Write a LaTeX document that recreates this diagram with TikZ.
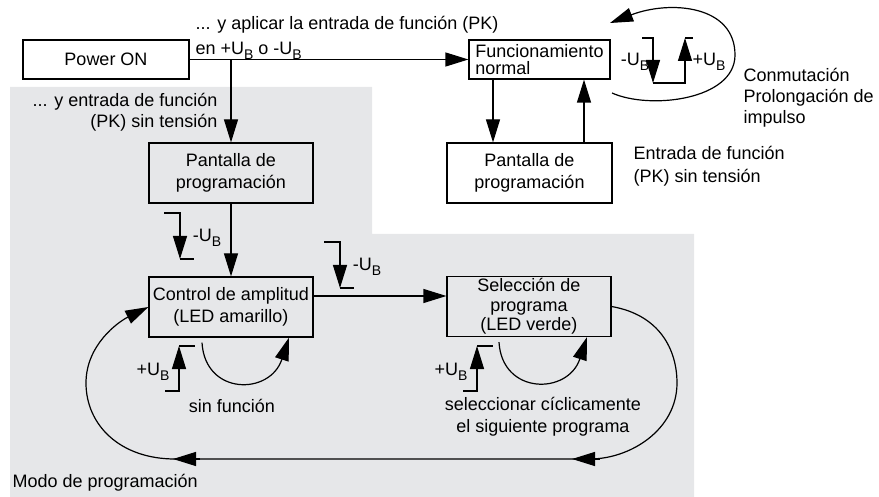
\documentclass[tikz,border=0pt]{standalone}
\usepackage{fontspec}
\setmainfont{Liberation Sans}
\usetikzlibrary{arrows.meta,calc}
\definecolor{modogray}{RGB}{230,231,233}
\newcommand{\UB}{U\raisebox{-4.5pt}{\fontsize{14}{14}\selectfont B}}

\begin{document}
\begin{tikzpicture}[x=1pt,y=-1pt,line width=1.2pt,
	arr/.style={-{Triangle[length=23pt,width=14pt]}},
	box/.style={draw, minimum width=164pt, minimum height=60pt, inner sep=2pt, align=center, font=\fontsize{18}{22}\selectfont},
	lbl/.style={inner sep=0pt, font=\fontsize{18}{21}\selectfont}]
			\useasboundingbox (0,0) rectangle (879,497);
			\fill[modogray] (10,87) -- (372,87) -- (372,234) -- (694,234) -- (694,497) -- (10,497) -- cycle;
			
			\node[box, minimum width=166pt, minimum height=39pt] (power) at (106,59.5) {Power ON};
			\node[box, minimum width=141pt, minimum height=39pt, align=left, inner xsep=3pt, font=\fontsize{18}{17}\selectfont] (func) at (539.5,59.5) {Funcionamiento\\normal};
			\node[box] (progA) at (231,173) {Pantalla de\\programación};
			\node[box, minimum width=165pt] (progB) at (529.5,173) {Pantalla de\\programación};
			\node[box] (ctrl) at (231,307) {Control de amplitud\\(LED amarillo)};
			\node[box, font=\fontsize{18}{19.5}\selectfont] (sel) at (529,306.5) {Selección de\\programa\\(LED verde)};
			
			\draw[arr] (power) -- (func);
			\draw[arr] (power.east -| progA.north) -- (progA);
			\draw[arr] (progA) -- (ctrl);
			\draw[arr] ([yshift=11pt]ctrl.east) -- ([yshift=11pt]ctrl.east -| sel.west);
			\draw[arr] ([xshift=-46.5pt]func.south) -- ([xshift=-46.5pt]func.south |- progB.north);
			\draw[arr] ([xshift=44.5pt]func.south |- progB.north) -- ([xshift=44.5pt]func.south);
			
			\draw[arr] ([xshift=-29pt,yshift=-5pt]ctrl.south) .. controls +(3,53) and +(-19,58) .. ([xshift=58pt]ctrl.south);
			\draw[arr] ([xshift=-30pt,yshift=-5pt]sel.south) .. controls +(3,53) and +(-19,58) .. ([xshift=58pt]sel.south);
			
			\draw[arr] (sel.east) .. controls (660,315) and (677,350) .. (677,383) .. controls (677,430) and (630,459) .. (590,459) -- (175,459) .. controls (120,459) and (86,425) .. (86,383) .. controls (86,345) and (118,322) .. (ctrl.west);
			\draw[arr] (600,459) -- (572,459);
			\draw[arr] (200,459) -- (173,459);
			
			\foreach \x/\y in {164/213,324/242} {
				\draw[arr] (\x,\y) -- ++(16,0) -- ++(0,46);
				\draw (\x+16,\y+46) -- ++(14,0);
				\node[lbl] (minus\x) at (\x+43,\y+25) {-\UB};
			}
			\foreach \x in {165,463} {
				\draw[arr] (\x,391) -- ++(14,0) -- ++(0,-45);
				\draw (\x+14,346) -- ++(16,0);
				\node[lbl] (plus\x) at (\x-12,372) {+\UB};
			}
			
			\draw[arr] (642,38) -- (653,38) -- (653,83);
			\draw[arr] (653,83) -- (685,83) -- (685,38);
			\draw (685,38) -- (693,38);
			\node[lbl] (minusF) at (635,62) {-\UB};
			\node[lbl] (plusF) at (709,62) {+\UB};
			\draw[arr] (612,93) .. controls (650,110) and (735,100) .. (735,55) .. controls (735,5) and (670,0) .. (610,23);
			
			\node[lbl, align=left, anchor=west, font=\fontsize{18}{25}\selectfont] (aplicar) at (195,38) {... y aplicar la entrada de función (PK)\\en +\UB{} o -\UB};
			\node[lbl, align=right, anchor=east] (pkA) at (218,112) {... y entrada de función\\(PK) sin tensión};
			\node[lbl, align=left, anchor=west] (conm) at (743,98) {Conmutación\\Prolongación de\\impulso};
			\node[lbl, align=left, anchor=west, font=\fontsize{18}{23}\selectfont] (pkB) at (633,166) {Entrada de función\\(PK) sin tensión};
			\node[lbl] (sinf) at (232,406) {sin función};
			\node[lbl, align=center, font=\fontsize{18}{22}\selectfont] (ciclo) at (543,417) {seleccionar cíclicamente\\el siguiente programa};
			\node[lbl, anchor=west] (modo) at (12,483) {Modo de programación};
		\end{tikzpicture}
\end{document}
